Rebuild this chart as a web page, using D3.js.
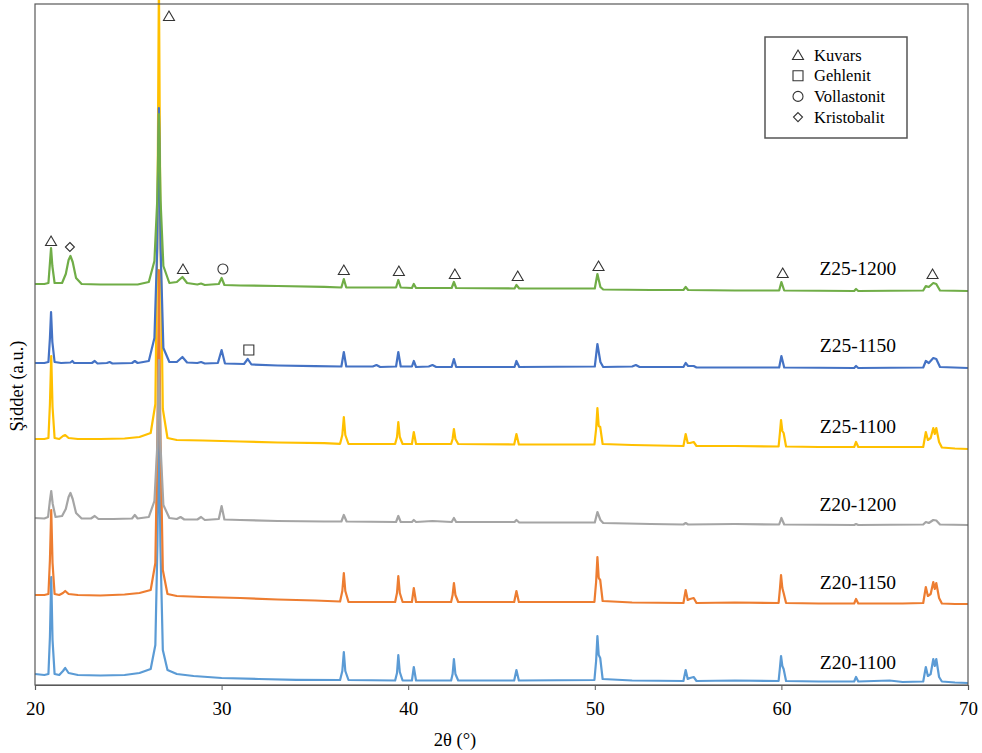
<!DOCTYPE html>
<html>
<head>
<meta charset="utf-8">
<script src="https://cdn.jsdelivr.net/npm/d3@7"></script>
<style>
  body { margin: 0; background: #fff; }
  svg text { font-family: 'Liberation Serif', 'DejaVu Serif', serif; fill: #000; }
</style>
</head>
<body>
<svg id="chart" width="982" height="753"></svg>
<script>
// sample names, bottom to top, and their vertical offsets (a.u.)
const sampleNames = ["Z20-1100", "Z20-1150", "Z20-1200", "Z25-1100", "Z25-1150", "Z25-1200"];
const sampleOffsets = [0, 800, 1580, 2360, 3170, 3940];
const sampleColors = ["#5B9BD5", "#ED7D31", "#A5A5A5", "#FFC000", "#4472C4", "#70AD47"];

// XRD patterns: [2theta, intensity a.u.]
const z20_1100 = [[20,110],[20.5,100],[20.72,110],[20.8,480],[20.87,1080],[20.94,450],[21.05,110],[21.3,100],[21.5,140],[21.62,170],[21.8,120],[22.3,100],[23.5,95],[24.8,100],[25.6,120],[26.2,160],[26.45,400],[26.56,1400],[26.64,2650],[26.72,1400],[26.85,350],[27.1,150],[27.6,110],[28.5,90],[30,70],[32,60],[34,52],[36.35,50],[36.47,140],[36.55,330],[36.63,140],[36.8,50],[39.3,45],[39.4,120],[39.47,300],[39.55,130],[39.7,45],[40.2,45],[40.3,180],[40.42,45],[42.3,45],[42.38,110],[42.45,260],[42.53,110],[42.68,45],[45.68,45],[45.8,150],[45.93,45],[49.98,50],[50.07,240],[50.14,490],[50.21,300],[50.29,270],[50.42,60],[52,45],[54.75,40],[54.87,150],[54.98,60],[55.1,70],[55.3,80],[55.45,40],[57.5,45],[59.85,40],[59.92,170],[59.98,290],[60.05,190],[60.12,160],[60.25,40],[62,35],[63.9,35],[64.0,80],[64.12,35],[65.8,45],[66.5,30],[67.6,35],[67.74,180],[67.85,90],[68.0,110],[68.14,260],[68.22,190],[68.3,260],[68.45,80],[68.6,35],[69.3,25],[70,20]];
const z20_1150 = [[20,100],[20.5,100],[20.72,110],[20.8,450],[20.87,950],[20.94,420],[21.05,110],[21.3,100],[21.5,120],[21.62,140],[21.8,110],[22.3,100],[23.5,95],[24.8,105],[25.6,120],[26.2,150],[26.45,420],[26.56,1700],[26.64,3350],[26.72,1700],[26.85,350],[27.1,110],[27.6,90],[29,80],[31,70],[33,55],[35,45],[36.35,35],[36.47,140],[36.55,320],[36.63,140],[36.8,30],[39.3,30],[39.4,120],[39.47,290],[39.55,120],[39.7,30],[40.2,30],[40.3,170],[40.42,30],[42.3,30],[42.38,100],[42.45,220],[42.53,100],[42.68,30],[45.68,30],[45.8,140],[45.93,30],[49.98,30],[50.07,230],[50.14,480],[50.21,270],[50.29,250],[50.42,40],[52,25],[54.75,20],[54.87,150],[54.98,50],[55.1,60],[55.3,70],[55.45,20],[57.5,25],[59.85,20],[59.92,160],[59.98,300],[60.05,170],[60.12,120],[60.25,20],[62,15],[63.9,15],[64.0,60],[64.12,15],[66.5,15],[67.6,20],[67.74,180],[67.85,90],[68.0,110],[68.14,230],[68.22,160],[68.3,220],[68.45,70],[68.6,15],[69.3,10],[70,10]];
const z20_1200 = [[20,90],[20.5,85],[20.7,100],[20.79,250],[20.87,360],[20.95,230],[21.1,100],[21.45,110],[21.65,180],[21.8,300],[21.9,340],[22.02,280],[22.2,140],[22.5,85],[23.0,85],[23.2,110],[23.4,80],[24.2,80],[25.2,85],[25.35,120],[25.5,85],[26.1,100],[26.4,260],[26.55,800],[26.64,1670],[26.73,800],[26.88,220],[27.2,90],[27.6,80],[27.8,100],[28.0,75],[28.7,75],[28.9,100],[29.1,70],[29.85,80],[30.0,210],[30.15,75],[31,70],[33,60],[35.5,55],[36.42,55],[36.55,120],[36.7,55],[39.35,50],[39.47,110],[39.6,50],[40.2,50],[40.3,70],[40.42,50],[41.3,60],[42.33,50],[42.45,90],[42.57,50],[45.7,50],[45.8,70],[45.95,45],[50.0,45],[50.14,150],[50.3,70],[50.45,40],[53,30],[54.75,25],[54.87,40],[55.0,25],[57.5,30],[59.88,25],[60.0,90],[60.15,25],[63.9,20],[64.0,30],[64.12,20],[67.6,25],[67.74,50],[67.9,40],[68.14,70],[68.3,65],[68.5,25],[70,20]];
const z25_1100 = [[20,100],[20.5,100],[20.72,110],[20.8,450],[20.87,930],[20.94,420],[21.05,110],[21.3,100],[21.5,130],[21.62,140],[21.8,110],[22.3,100],[23.5,100],[24.8,105],[25.6,120],[26.2,160],[26.45,450],[26.56,2200],[26.64,4700],[26.72,2200],[26.85,400],[27.1,110],[27.6,90],[29,85],[31,75],[33,65],[35.5,58],[36.35,52],[36.47,140],[36.55,320],[36.63,140],[36.8,50],[39.3,50],[39.4,120],[39.47,270],[39.55,120],[39.7,50],[40.2,50],[40.3,170],[40.42,50],[42.3,50],[42.38,100],[42.45,200],[42.53,100],[42.68,50],[45.68,45],[45.8,150],[45.93,45],[49.98,45],[50.07,200],[50.14,410],[50.21,230],[50.29,220],[50.42,50],[52,40],[54.75,30],[54.87,150],[54.98,60],[55.1,60],[55.3,70],[55.45,30],[57.5,30],[59.85,25],[59.92,160],[59.98,290],[60.05,180],[60.12,160],[60.25,25],[62,20],[63.9,20],[64.0,70],[64.12,20],[66.5,20],[67.6,20],[67.74,170],[67.85,90],[68.0,110],[68.14,210],[68.22,150],[68.3,210],[68.45,70],[68.6,15],[69.3,5],[70,0]];
const z25_1150 = [[20,50],[20.5,50],[20.72,60],[20.8,300],[20.86,560],[20.93,260],[21.05,60],[21.4,50],[21.9,55],[22.0,70],[22.1,50],[23.05,50],[23.2,70],[23.35,45],[23.85,50],[24.0,60],[24.15,45],[25.2,50],[25.35,70],[25.5,50],[26.1,70],[26.4,300],[26.55,1200],[26.64,2600],[26.73,1200],[26.88,200],[27.2,60],[27.6,60],[27.9,110],[28.15,55],[28.7,50],[28.9,60],[29.1,45],[29.8,50],[30.0,180],[30.18,45],[31.2,40],[31.4,90],[31.6,35],[33,25],[35,18],[36.42,15],[36.55,160],[36.68,15],[38.1,15],[38.3,30],[38.5,10],[39.35,15],[39.47,160],[39.6,15],[40.2,15],[40.3,70],[40.42,10],[41.1,15],[41.3,30],[41.5,10],[42.33,10],[42.45,90],[42.57,10],[45.7,10],[45.8,70],[45.95,10],[50.0,15],[50.14,240],[50.3,60],[50.45,10],[52.0,15],[52.2,30],[52.4,10],[54.75,10],[54.87,50],[55.0,20],[55.3,20],[55.45,5],[59.88,5],[60.0,120],[60.15,5],[63.9,0],[64.0,20],[64.12,0],[67.6,5],[67.74,70],[67.9,50],[68.14,100],[68.3,90],[68.5,10],[70,0]];
const z25_1200 = [[20,70],[20.5,70],[20.72,80],[20.8,280],[20.86,430],[20.93,250],[21.05,80],[21.45,80],[21.65,170],[21.8,310],[21.9,350],[22.02,290],[22.2,130],[22.5,70],[23.5,65],[24.5,65],[25.5,65],[26.1,90],[26.4,300],[26.55,900],[26.64,1770],[26.73,900],[26.88,250],[27.2,80],[27.6,90],[27.9,140],[28.15,80],[28.7,65],[28.9,75],[29.1,60],[29.85,70],[30.0,130],[30.15,60],[31,55],[33,50],[35.5,42],[36.42,35],[36.55,120],[36.68,35],[39.35,35],[39.47,110],[39.6,35],[40.2,30],[40.3,70],[40.42,30],[42.33,30],[42.45,90],[42.57,30],[45.7,25],[45.8,60],[45.95,25],[50.0,25],[50.14,170],[50.3,40],[50.45,15],[53,10],[54.75,10],[54.87,40],[55.0,10],[57.5,5],[59.88,5],[60.0,90],[60.15,5],[63.9,0],[64.0,20],[64.12,0],[67.6,5],[67.74,50],[67.9,40],[68.14,80],[68.3,70],[68.5,5],[70,0]];
const patterns = [z20_1100, z20_1150, z20_1200, z25_1100, z25_1150, z25_1200];

// phase marks: [2theta, level a.u., phase]
const phaseMarks = [[27.18,6690,"q"],[20.86,4440,"q"],[21.87,4380,"c"],[27.93,4160,"q"],[30.07,4160,"w"],[36.55,4150,"q"],[39.5,4140,"q"],[42.5,4110,"q"],[45.87,4090,"q"],[50.2,4190,"q"],[60.07,4120,"q"],[68.1,4110,"q"],[31.46,3350,"g"]];
const legendKeys = ["q", "g", "w", "c"];
const legendNames = ["Kuvars", "Gehlenit", "Vollastonit", "Kristobalit"];

const xTicks = [20, 30, 40, 50, 60, 70];
const labelAngle = 64.1;

const svg = d3.select('#chart');
const margin = {top: 4, right: 14, bottom: 68, left: 35};
const W = 982, H = 753;
const serif = "'Liberation Serif', 'DejaVu Serif', serif";

const x = d3.scaleLinear().domain([20, 70]).range([margin.left, W - margin.right]);
const y = d3.scaleLinear().domain([0, 6810]).range([H - margin.bottom, margin.top]);

svg.append('rect').attr('width', W).attr('height', H).attr('fill', '#fff');

// patterns, each shifted by its offset
const line = d3.line()
    .x(d => x(d[0]))
    .y(d => y(d[1]));

patterns.forEach(function (pts, i) {
    svg.append('path')
        .datum(pts.map(p => [p[0], p[1] + sampleOffsets[i]]))
        .attr('d', line)
        .attr('fill', 'none')
        .attr('stroke', sampleColors[i])
        .attr('stroke-width', 2.2)
        .attr('stroke-linejoin', 'round');

    svg.append('text')
        .attr('x', x(labelAngle))
        .attr('y', y(sampleOffsets[i]) - 16)
        .attr('text-anchor', 'middle')
        .attr('font-family', serif)
        .attr('font-size', 19.5)
        .text(sampleNames[i]);
});

// plot frame
svg.append('rect')
    .attr('x', x(20)).attr('y', margin.top)
    .attr('width', x(70) - x(20)).attr('height', y(0) - margin.top)
    .attr('fill', 'none')
    .attr('stroke', '#595959')
    .attr('stroke-width', 1.2);

// x axis
const xAxis = svg.append('g')
    .attr('transform', 'translate(0,' + y(0) + ')')
    .call(d3.axisBottom(x).tickValues(xTicks).tickSize(5).tickPadding(12).tickFormat(d3.format('d')))
    .attr('font-family', serif)
    .attr('font-size', 19);
xAxis.select('.domain').attr('stroke', '#595959').attr('stroke-width', 1.2);
xAxis.selectAll('.tick line').attr('stroke', '#595959');
xAxis.selectAll('.tick text').attr('fill', '#000');

svg.append('text')
    .attr('x', 455).attr('y', 746)
    .attr('text-anchor', 'middle')
    .attr('font-family', serif)
    .attr('font-size', 18.5)
    .text('2θ (°)');

svg.append('text')
    .attr('transform', 'translate(23,386) rotate(-90)')
    .attr('text-anchor', 'middle')
    .attr('font-family', serif)
    .attr('font-size', 18.5)
    .text('Şiddet (a.u.)');

// symbol shapes
function drawMark(g, kind, cx, cy) {
    const s = g.append('path')
        .attr('fill', '#fff')
        .attr('stroke', '#333')
        .attr('stroke-width', 1.1);
    if (kind === 'q') {
        s.attr('d', 'M' + cx + ',' + (cy - 5) + 'L' + (cx + 5.5) + ',' + (cy + 4.5) + 'L' + (cx - 5.5) + ',' + (cy + 4.5) + 'Z');
    } else if (kind === 'g') {
        s.attr('d', 'M' + (cx - 5) + ',' + (cy - 5) + 'h10v10h-10Z');
    } else if (kind === 'w') {
        s.attr('d', d3.arc()({innerRadius: 0, outerRadius: 5, startAngle: 0, endAngle: 2 * Math.PI}))
         .attr('transform', 'translate(' + cx + ',' + cy + ')');
    } else {
        s.attr('d', 'M' + cx + ',' + (cy - 4.5) + 'L' + (cx + 4.5) + ',' + cy + 'L' + cx + ',' + (cy + 4.5) + 'L' + (cx - 4.5) + ',' + cy + 'Z');
    }
}

const marks = svg.append('g');
phaseMarks.forEach(function (m) {
    drawMark(marks, m[2], x(m[0]), y(m[1]));
});

// legend
const legend = svg.append('g');
legend.append('rect')
    .attr('x', 765).attr('y', 37)
    .attr('width', 142).attr('height', 101)
    .attr('fill', '#fff')
    .attr('stroke', '#555')
    .attr('stroke-width', 1.5);

legendKeys.forEach(function (k, i) {
    const cy = 55 + i * 20.7;
    drawMark(legend, k, 798, cy);
    legend.append('text')
        .attr('x', 814).attr('y', cy + 5.5)
        .attr('font-family', serif)
        .attr('font-size', 16.5)
        .text(legendNames[i]);
});
</script>
</body>
</html>
